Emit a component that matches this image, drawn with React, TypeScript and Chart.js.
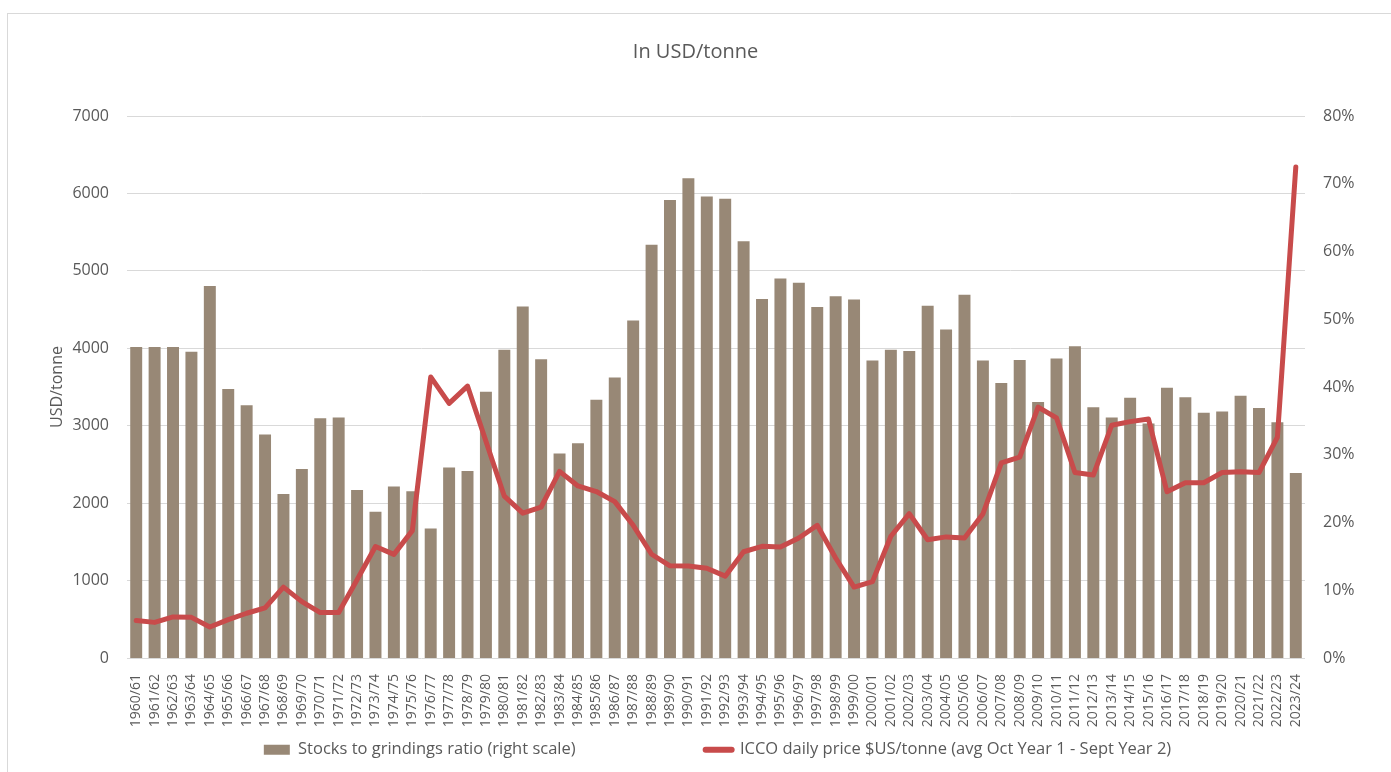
import React, { useEffect, useRef } from 'react';
import { Chart, registerables } from 'chart.js';

Chart.register(...registerables);

const categories = [
  '1960/61', '1961/62', '1962/63', '1963/64', '1964/65', '1965/66', '1966/67', '1967/68', '1968/69', '1969/70',
  '1970/71', '1971/72', '1972/73', '1973/74', '1974/75', '1975/76', '1976/77', '1977/78', '1978/79', '1979/80',
  '1980/81', '1981/82', '1982/83', '1983/84', '1984/85', '1985/86', '1986/87', '1987/88', '1988/89', '1989/90',
  '1990/91', '1991/92', '1992/93', '1993/94', '1994/95', '1995/96', '1996/97', '1997/98', '1998/99', '1999/00',
  '2000/01', '2001/02', '2002/03', '2003/04', '2004/05', '2005/06', '2006/07', '2007/08', '2008/09', '2009/10',
  '2010/11', '2011/12', '2012/13', '2013/14', '2014/15', '2015/16', '2016/17', '2017/18', '2018/19', '2019/20',
  '2020/21', '2021/22', '2022/23', '2023/24',
];

// Stocks to grindings ratio, % (right scale)
const stocksToGrindings = [
  45.9, 45.9, 45.9, 45.2, 54.9, 39.7, 37.3, 33.0, 24.2, 27.9,
  35.4, 35.5, 24.8, 21.6, 25.3, 24.6, 19.1, 28.1, 27.6, 39.3,
  45.5, 51.9, 44.1, 30.2, 31.7, 38.1, 41.4, 49.8, 61.0, 67.6,
  70.8, 68.1, 67.8, 61.5, 53.0, 56.0, 55.4, 51.8, 53.4, 52.9,
  43.9, 45.5, 45.3, 52.0, 48.5, 53.6, 43.9, 40.6, 44.0, 37.8,
  44.2, 46.0, 37.0, 35.5, 38.4, 34.6, 39.9, 38.5, 36.2, 36.4,
  38.7, 36.9, 34.8, 27.3,
];

// ICCO daily price, USD/tonne (left scale)
const iccoPrice = [
  485, 460, 530, 525, 400, 495, 578, 648, 915, 728,
  587, 587, 1010, 1440, 1338, 1645, 3630, 3288, 3512, 2800,
  2090, 1870, 1950, 2410, 2222, 2150, 2020, 1714, 1340, 1190,
  1188, 1160, 1057, 1372, 1442, 1433, 1550, 1714, 1292, 916,
  986, 1573, 1865, 1527, 1564, 1550, 1860, 2520, 2593, 3241,
  3100, 2395, 2363, 3006, 3053, 3086, 2147, 2264, 2264, 2395,
  2405, 2395, 2851, 6341,
];

const barLabel = 'Stocks to grindings ratio (right scale)';
const lineLabel = 'ICCO daily price $US/tonne (avg Oct Year 1 - Sept Year 2)';

const TEXT = '#595959';
const GRID = '#d9d9d9';
const BAR = '#988876';
const RED = '#C84B4B';

// widen gap between the two legend entries, and nudge the legend row right
const LEGEND_GAP = '\u00a0'.repeat(28);
const legendOffset = {
  id: 'legendOffset',
  afterLayout(chart: any) {
    const lg = chart.legend;
    if (lg) {
      lg.left += 22;
      lg.right += 22;
    }
  },
};

export default function App() {
  const ref = useRef<HTMLCanvasElement>(null);

  useEffect(() => {
    Chart.defaults.font.family = "'Open Sans', 'Noto Sans', sans-serif";
    const chart = new Chart(ref.current as HTMLCanvasElement, {
      data: {
        labels: categories,
        datasets: [
          {
            type: 'bar',
            label: barLabel,
            data: stocksToGrindings,
            yAxisID: 'y1',
            backgroundColor: BAR,
            borderWidth: 0,
            barPercentage: 0.65,
            categoryPercentage: 1,
            order: 1,
          } as any,
          {
            type: 'line',
            label: lineLabel,
            data: iccoPrice,
            yAxisID: 'y',
            borderColor: RED,
            backgroundColor: RED,
            borderWidth: 5,
            pointRadius: 0,
            tension: 0,
            borderJoinStyle: 'round',
            borderCapStyle: 'round',
            order: 0,
          } as any,
        ],
      },
      options: {
        responsive: false,
        maintainAspectRatio: false,
        animation: false,
        layout: { padding: { left: 0, right: 0, top: 0, bottom: 4 } },
        plugins: {
          title: {
            display: true,
            text: 'In USD/tonne',
            color: TEXT,
            font: { size: 20, weight: 'normal' },
            padding: { top: 40, bottom: 52 },
          },
          legend: {
            position: 'bottom',
            labels: {
              usePointStyle: true,
              pointStyleWidth: 26,
              boxHeight: 10,
              padding: 10,
              color: TEXT,
              font: { size: 16.5 },
              generateLabels: () => [
                {
                  text: barLabel + LEGEND_GAP,
                  fillStyle: BAR,
                  strokeStyle: BAR,
                  lineWidth: 0,
                  pointStyle: 'rect',
                  fontColor: TEXT,
                  datasetIndex: 0,
                  hidden: false,
                } as any,
                {
                  text: lineLabel,
                  fillStyle: RED,
                  strokeStyle: RED,
                  lineWidth: 6,
                  lineCap: 'round',
                  pointStyle: 'line',
                  fontColor: TEXT,
                  datasetIndex: 1,
                  hidden: false,
                } as any,
              ],
            },
          },
          tooltip: { enabled: false },
        },
        scales: {
          x: {
            grid: { display: false },
            border: { display: false },
            ticks: {
              autoSkip: false,
              maxRotation: 90,
              minRotation: 90,
              padding: 8,
              color: TEXT,
              font: { size: 14 },
            },
            afterFit: (s: any) => {
              s.height = 73.5;
            },
          },
          y: {
            position: 'left',
            min: 0,
            max: 7000,
            ticks: {
              stepSize: 1000,
              padding: 18,
              color: TEXT,
              font: { size: 16 },
              callback: (v: any) => String(v),
            },
            grid: { color: GRID, drawTicks: false, lineWidth: 1 },
            border: { display: false },
            title: {
              display: true,
              text: 'USD/tonne',
              color: TEXT,
              font: { size: 16 },
              padding: { top: 48, bottom: 0 },
            },
            afterFit: (s: any) => {
              s.width = 127;
            },
          },
          y1: {
            position: 'right',
            min: 0,
            max: 80,
            ticks: {
              stepSize: 10,
              padding: 18,
              color: TEXT,
              font: { size: 16 },
              callback: (v: any) => v + '%',
            },
            grid: { display: false, drawTicks: false },
            border: { display: false },
            afterFit: (s: any) => {
              s.width = 86;
            },
          },
        },
      } as any,
      plugins: [legendOffset],
    });
    return () => chart.destroy();
  }, []);

  return (
    <div style={{ position: 'absolute', left: 0, top: 0, width: 1391, height: 772, overflow: 'hidden', background: '#fff' }}>
      <div style={{ position: 'absolute', left: 7, top: 13, width: 1500, height: 900, border: '1px solid #d9d9d9' }} />
      <canvas ref={ref} width={1391} height={772} style={{ position: 'absolute', left: 0, top: 0 }} />
    </div>
  );
}
